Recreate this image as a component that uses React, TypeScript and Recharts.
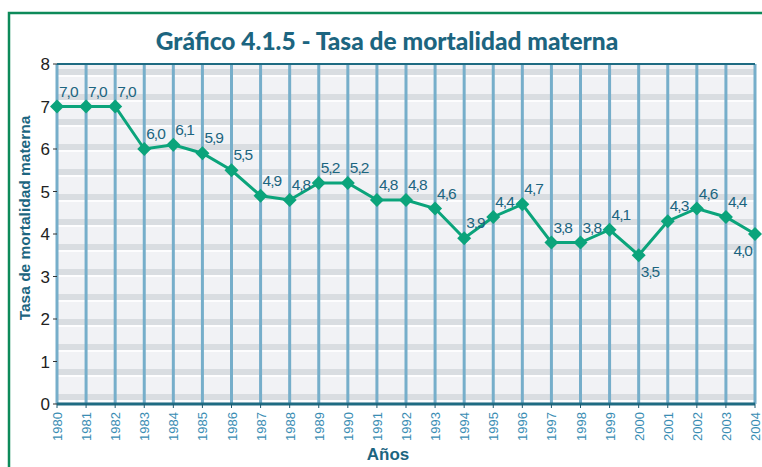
import { LineChart, Line, XAxis, YAxis, CartesianGrid, ReferenceLine, LabelList } from 'recharts'

const years = ['1980', '1981', '1982', '1983', '1984', '1985', '1986', '1987', '1988', '1989', '1990', '1991', '1992', '1993', '1994', '1995', '1996', '1997', '1998', '1999', '2000', '2001', '2002', '2003', '2004']
const rates = [7.0, 7.0, 7.0, 6.0, 6.1, 5.9, 5.5, 4.9, 4.8, 5.2, 5.2, 4.8, 4.8, 4.6, 3.9, 4.4, 4.7, 3.8, 3.8, 4.1, 3.5, 4.3, 4.6, 4.4, 4.0]
const yTicks = [0, 1, 2, 3, 4, 5, 6, 7, 8]
// labels drawn under the point instead of above
const labelsBelow = ['2000']
const labelsBelowLeft = ['2004']

const data = years.map((year, i) => ({ year, rate: rates[i] }))

const TEAL = '#1c6580'
const GREEN = '#0ba47b'
const FONT = '"Liberation Sans", Arial, sans-serif'

function stripeRows({ offset }: any) {
  const n = 14
  const step = offset.height / 13.6
  const rows: number[] = []
  for (let k = 0; k < n; k++) rows.push(offset.top + step * (k + 0.32))
  return rows
}

function stripeHighlights(props: any) {
  return stripeRows(props).map((y) => y + 4)
}

function Diamond({ cx, cy }: any) {
  if (cx == null || cy == null) return null
  const r = 7
  return <path d={`M${cx},${cy - r}L${cx + r},${cy}L${cx},${cy + r}L${cx - r},${cy}Z`} fill={GREEN} />
}

function YearTick({ x, y, payload }: any) {
  return (
    <text
      x={x + 5}
      y={y + 2}
      transform={`rotate(-90, ${x + 5}, ${y + 2})`}
      textAnchor="end"
      fontSize={13}
      fontFamily={FONT}
      fill="#3a8db3"
    >
      {payload.value}
    </text>
  )
}

function ValueLabel({ x, y, value, index }: any) {
  const year = years[index]
  const text = Number(value).toFixed(1).replace('.', ',')
  let tx = x + 2
  let ty = y - 10
  let anchor = 'start'
  if (labelsBelow.includes(year)) {
    ty = y + 22
  } else if (labelsBelowLeft.includes(year)) {
    tx = x - 3
    ty = y + 22
    anchor = 'end'
  }
  return (
    <text x={tx} y={ty} textAnchor={anchor} fontSize={15.5} letterSpacing={-1} fontFamily={FONT} fill={TEAL}>
      {text}
    </text>
  )
}

export default function App() {
  return (
    <div style={{ position: 'absolute', left: 0, top: 0, width: 762, height: 467, background: '#fff' }}>
      <LineChart width={762} height={467} data={data} margin={{ top: 64, right: 7, left: 14, bottom: 0 }}>
        <CartesianGrid
          vertical={false}
          horizontalCoordinatesGenerator={stripeRows}
          stroke="#d9dde1"
          strokeWidth={6}
          fill="#f1f2f5"
        />
        <CartesianGrid
          vertical={false}
          horizontalCoordinatesGenerator={stripeHighlights}
          stroke="#fdfdfe"
          strokeWidth={2}
        />
        <CartesianGrid horizontal={false} stroke="#76aeca" strokeWidth={3} />
        <XAxis
          dataKey="year"
          interval={0}
          height={63}
          tick={<YearTick />}
          tickSize={4}
          tickLine={{ stroke: '#1e5b70' }}
          axisLine={{ stroke: '#1e6b82', strokeWidth: 3 }}
        />
        <YAxis
          domain={[0, 8]}
          ticks={yTicks}
          width={43}
          tickSize={4}
          tickMargin={3}
          tick={{ fontSize: 17, fill: '#222', fontFamily: FONT }}
          tickLine={{ stroke: '#333' }}
          axisLine={false}
        />
        <ReferenceLine y={8} stroke="#1e6b82" strokeWidth={2} />
        <Line
          dataKey="rate"
          stroke={GREEN}
          strokeWidth={3}
          dot={<Diamond />}
          activeDot={false}
          isAnimationActive={false}
        >
          <LabelList dataKey="rate" content={<ValueLabel />} />
        </Line>
      </LineChart>
      <svg width={762} height={467} style={{ position: 'absolute', left: 0, top: 0, pointerEvents: 'none' }}>
        <path d="M9,467V13H762" fill="none" stroke="#0d8a5a" strokeWidth={2.5} />
        <text x={387} y={50} textAnchor="middle" fontSize={24.5} fontWeight={900} fontFamily="Lato, sans-serif" fill={TEAL}>
          Gráfico 4.1.5 - Tasa de mortalidad materna
        </text>
        <text
          x={30}
          y={218}
          transform="rotate(-90, 30, 218)"
          textAnchor="middle"
          fontSize={15.5}
          fontWeight="bold"
          fontFamily={FONT}
          fill={TEAL}
        >
          Tasa de mortalidad materna
        </text>
        <text x={388} y={460} textAnchor="middle" fontSize={17} fontWeight="bold" fontFamily={FONT} fill={TEAL}>
          Años
        </text>
      </svg>
    </div>
  )
}
